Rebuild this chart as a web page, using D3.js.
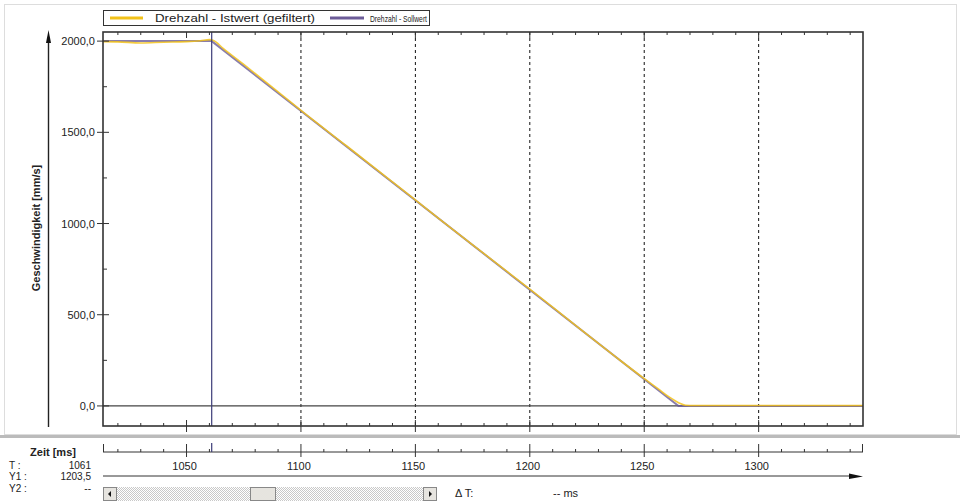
<!DOCTYPE html>
<html lang="de">
<head>
<meta charset="UTF-8">
<script src="https://cdn.jsdelivr.net/npm/d3@7"></script>
<style>
    body { margin: 0; background: #fff; }
    svg { display: block; font-family: "Liberation Sans", Arial, sans-serif; font-size: 11px; }
</style>
</head>
<body>
<div id="chart"></div>
<script>
    // Sollwert (target speed), ms / mm/s
    const sollTime  = [1013.5, 1061, 1265, 1345.6];
    const sollValue = [2000, 2000, 0, 0];

    // Istwert (gefiltert)
    const istTime  = [1013.5, 1020, 1030, 1040, 1050, 1056, 1060, 1062, 1066, 1075, 1090, 1100, 1120, 1140, 1160,
                      1180, 1200, 1220, 1240, 1250, 1256, 1261, 1265, 1268, 1272, 1300, 1345.6];
    const istValue = [1997, 1996, 1990, 1994, 1997, 2002, 2008, 2002, 1960, 1872, 1722, 1620, 1425, 1228, 1030,
                      835, 640, 442, 245, 150, 95, 48, 18, 4, 2, 2, 2];

    const yTicks = [0, 500, 1000, 1500, 2000];
    const xTicks = [1050, 1100, 1150, 1200, 1250, 1300];
    const gridX = [1100, 1150, 1200, 1250, 1300];
    const cursorT = 1061;
    const legendNames = ["Drehzahl - Istwert (gefiltert)", "Drehzahl - Sollwert"];
    const colors = ["#f2c21a", "#6c5c98"];

    const W = 960, H = 502;
    const pL = 103, pR = 863, pT = 32, pB = 426;

    const svg = d3.select("#chart").append("svg").attr("width", W).attr("height", H);

    const x = d3.scaleLinear().domain([1013.5, 1345.6]).range([pL, pR]);
    const y = d3.scaleLinear().domain([-110, 2050]).range([pB, pT]);

    // outer panel
    svg.append("rect").attr("x", 4.5).attr("y", 4.5).attr("width", 952).attr("height", 430)
        .attr("fill", "none").attr("stroke", "#ddd");
    // separator
    svg.append("rect").attr("x", 0).attr("y", 435).attr("width", W).attr("height", 3).attr("fill", "#bbb");

    // legend
    const lg = svg.append("g");
    lg.append("rect").attr("x", 103.5).attr("y", 10.5).attr("width", 326).attr("height", 15)
        .attr("fill", "#fff").attr("stroke", "#333");
    [[110, 143, 155, 160, 11], [330, 364, 370, 57, 9.5]].forEach((p, i) => {
        lg.append("line").attr("x1", p[0]).attr("x2", p[1]).attr("y1", 18).attr("y2", 18)
            .attr("stroke", colors[i]).attr("stroke-width", 3);
        lg.append("text").attr("x", p[2]).attr("y", 22).attr("fill", "#222").attr("font-size", p[4])
            .attr("textLength", p[3]).attr("lengthAdjust", "spacingAndGlyphs").text(legendNames[i]);
    });

    // grid lines
    svg.selectAll(".grid").data(gridX).enter().append("line")
        .attr("x1", d => x(d)).attr("x2", d => x(d)).attr("y1", pT).attr("y2", pB)
        .attr("stroke", "#111").attr("stroke-dasharray", "3,3");
    // zero line
    svg.append("line").attr("x1", pL).attr("x2", pR).attr("y1", y(0)).attr("y2", y(0))
        .attr("stroke", "#444").attr("stroke-width", 1.2);

    // series
    const line = d3.line().x(d => x(d[0])).y(d => y(d[1]));
    svg.append("path").datum(d3.zip(sollTime, sollValue)).attr("d", line)
        .attr("fill", "none").attr("stroke", colors[1]).attr("stroke-width", 2).attr("opacity", 0.8);
    svg.append("path").datum(d3.zip(istTime, istValue)).attr("d", line.curve(d3.curveMonotoneX))
        .attr("fill", "none").attr("stroke", colors[0]).attr("stroke-width", 1.6).attr("opacity", 0.85);

    // cursor
    svg.append("line").attr("x1", x(cursorT)).attr("x2", x(cursorT)).attr("y1", pT).attr("y2", pB)
        .attr("stroke", "#3c3c78").attr("stroke-width", 1.2);

    // frame
    svg.append("rect").attr("x", pL).attr("y", pT).attr("width", pR - pL).attr("height", pB - pT)
        .attr("fill", "none").attr("stroke", "#333").attr("stroke-width", 1.6);

    // x minor/major ticks on plot frame and bottom axis
    const xMinor = d3.range(1020, 1346, 10);
    const ticks = svg.append("g").attr("stroke", "#333");
    xMinor.forEach(t => {
        const major = t % 50 === 0;
        const px = x(t);
        ticks.append("line").attr("x1", px).attr("x2", px).attr("y1", pT).attr("y2", pT + (major ? 6 : 3));
        ticks.append("line").attr("x1", px).attr("x2", px).attr("y1", pB - (major ? 6 : 3)).attr("y2", major ? pB + 6 : pB);
        ticks.append("line").attr("x1", px).attr("x2", px).attr("y1", 452 - (major ? 8 : 3)).attr("y2", major ? 457 : 452);
    });
    // y ticks
    d3.range(0, 2001, 250).forEach(v => {
        const major = v % 500 === 0;
        ticks.append("line").attr("x1", major ? pL - 6 : pL).attr("x2", pL + (major ? 6 : 4))
            .attr("y1", y(v)).attr("y2", y(v));
    });
    svg.selectAll(".ylab").data(yTicks).enter().append("text")
        .attr("x", 95).attr("y", d => y(d) + 4).attr("text-anchor", "end").attr("fill", "#222")
        .text(d => d3.format(".1f")(d).replace(".", ","));

    // y axis arrow
    svg.append("line").attr("x1", 48.5).attr("x2", 48.5).attr("y1", 427).attr("y2", 40)
        .attr("stroke", "#222").attr("stroke-width", 1.4);
    svg.append("path").attr("d", "M48.5,30 L51,43 L46,43 Z").attr("fill", "#111");
    svg.append("text").attr("transform", "translate(40,228) rotate(-90)").attr("text-anchor", "middle")
        .attr("font-weight", "bold").attr("fill", "#222").text("Geschwindigkeit [mm/s]");

    // bottom axis
    svg.append("line").attr("x1", pL).attr("x2", pR).attr("y1", 452).attr("y2", 452).attr("stroke", "#333");
    svg.append("line").attr("x1", pL + 0.5).attr("x2", pL + 0.5).attr("y1", 444).attr("y2", 452).attr("stroke", "#333");
    svg.append("line").attr("x1", pR - 0.5).attr("x2", pR - 0.5).attr("y1", 444).attr("y2", 452).attr("stroke", "#333");
    svg.append("line").attr("x1", x(cursorT)).attr("x2", x(cursorT)).attr("y1", 443).attr("y2", 452)
        .attr("stroke", "#3c3c78").attr("stroke-width", 1.2);
    svg.selectAll(".xlab").data(xTicks).enter().append("text")
        .attr("x", d => x(d) - 2).attr("y", 470).attr("text-anchor", "middle").attr("fill", "#222").text(d => d);
    svg.append("line").attr("x1", pL).attr("x2", pR - 12).attr("y1", 476).attr("y2", 476).attr("stroke", "#333");
    svg.append("path").attr("d", `M${pR},476.5 L${pR - 14},473.5 L${pR - 14},479 Z`).attr("fill", "#111");

    // info texts
    svg.append("text").attr("x", 53).attr("y", 456).attr("text-anchor", "middle").attr("font-weight", "bold")
        .attr("fill", "#222").text("Zeit [ms]");
    const info = [["T :", "1061", 469], ["Y1 :", "1203,5", 480], ["Y2 :", "--", 492]];
    info.forEach(r => {
        svg.append("text").attr("x", 9).attr("y", r[2]).attr("font-size", 10).attr("fill", "#222").text(r[0]);
        svg.append("text").attr("x", 91).attr("y", r[2]).attr("font-size", 10).attr("text-anchor", "end")
            .attr("fill", "#222").text(r[1]);
    });

    // scrollbar
    const defs = svg.append("defs");
    const pat = defs.append("pattern").attr("id", "dots").attr("width", 2).attr("height", 2).attr("patternUnits", "userSpaceOnUse");
    pat.append("rect").attr("width", 2).attr("height", 2).attr("fill", "#fff");
    pat.append("rect").attr("width", 1).attr("height", 1).attr("fill", "#c8c8c8");
    pat.append("rect").attr("x", 1).attr("y", 1).attr("width", 1).attr("height", 1).attr("fill", "#c8c8c8");
    svg.append("rect").attr("x", 103).attr("y", 487).attr("width", 334).attr("height", 14).attr("fill", "url(#dots)");
    [[103, 117], [423, 437]].forEach((b, i) => {
        svg.append("rect").attr("x", b[0] + 0.5).attr("y", 487.5).attr("width", b[1] - b[0] - 1).attr("height", 13)
            .attr("fill", "#e6e4df").attr("stroke", "#888");
        const cx = (b[0] + b[1]) / 2;
        svg.append("path").attr("d", i === 0 ? `M${cx - 2},494 L${cx + 1},491 L${cx + 1},497 Z` : `M${cx + 2},494 L${cx - 1},491 L${cx - 1},497 Z`)
            .attr("fill", "#111");
    });
    svg.append("rect").attr("x", 250.5).attr("y", 487.5).attr("width", 25).attr("height", 13)
        .attr("fill", "#e6e4df").attr("stroke", "#888");
    svg.append("text").attr("x", 455).attr("y", 497).attr("fill", "#222").text("\u0394 T:");
    svg.append("text").attr("x", 553).attr("y", 497).attr("fill", "#222").text("-- ms");
</script>
</body>
</html>
